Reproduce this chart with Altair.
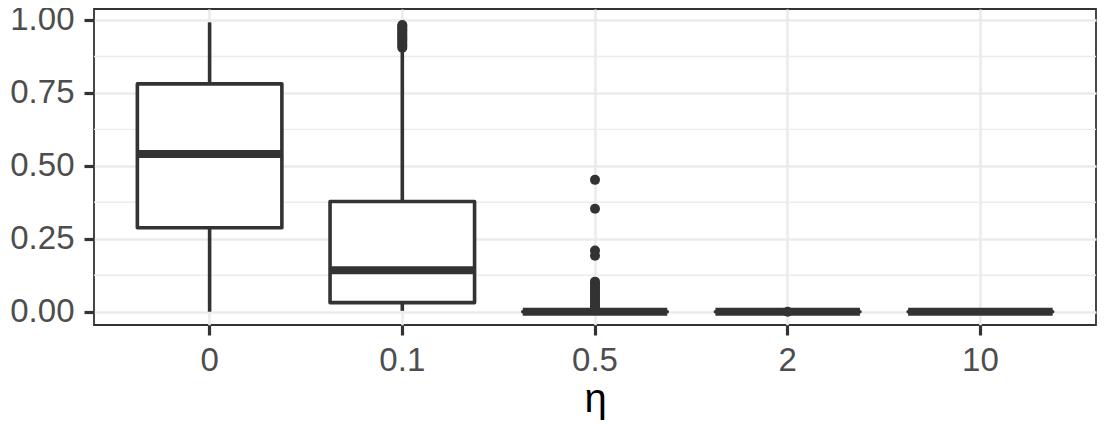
import altair as alt
import pandas as pd

# ---- data ----
categories = ["0", "0.1", "0.5", "2", "10"]
lower_whisker = [0.0, 0.003, 0.0, 0.0, 0.0]
q1 = [0.288, 0.031, 0.0, 0.0, 0.0]
median = [0.541, 0.142, 0.0, 0.0, 0.0]
q3 = [0.781, 0.378, 0.0, 0.0, 0.0]
upper_whisker = [0.992, 0.897, 0.0, 0.0, 0.0]

outliers_01 = [0.905, 0.912, 0.918, 0.925, 0.931, 0.937, 0.944, 0.950,
               0.956, 0.962, 0.968, 0.974, 0.979, 0.983]
outliers_05 = [0.452, 0.353, 0.210, 0.192, 0.103, 0.096, 0.089, 0.082,
               0.075, 0.068, 0.061, 0.054, 0.047, 0.040, 0.033, 0.026,
               0.019, 0.012, 0.006]
outliers_2 = [0.0]

y_ticks = [0.0, 0.25, 0.5, 0.75, 1.0]
y_minor = [0.125, 0.375, 0.625, 0.875]

# ---- tables ----
box_df = pd.DataFrame({
    "eta": categories,
    "lo": lower_whisker,
    "q1": q1,
    "med": median,
    "q3": q3,
    "hi": upper_whisker,
})
out_df = pd.DataFrame({
    "eta": ["0.1"] * len(outliers_01) + ["0.5"] * len(outliers_05) + ["2"] * len(outliers_2),
    "v": outliers_01 + outliers_05 + outliers_2,
})
minor_df = pd.DataFrame({"y": y_minor})

INK = "#333333"
W, H = 1002, 316
step = W / 5.2

xscale = alt.Scale(domain=categories, paddingInner=0, paddingOuter=0.1)
yscale = alt.Scale(domain=[-0.0456, 1.0377], nice=False, zero=False)

X = alt.X("eta:N", scale=xscale, sort=categories,
          axis=alt.Axis(title="η", labelAngle=0))
Y_AX = alt.Axis(title=None, values=y_ticks, format=".2f")

minor = alt.Chart(minor_df).mark_rule(color="#EBEBEB", strokeWidth=1.4).encode(
    y=alt.Y("y:Q", scale=yscale, axis=Y_AX)
)

whisk_hi = alt.Chart(box_df).mark_rule(color=INK, strokeWidth=3.6).encode(
    x=X, y=alt.Y("q3:Q", scale=yscale, axis=Y_AX), y2="hi:Q"
)
whisk_lo = alt.Chart(box_df).mark_rule(color=INK, strokeWidth=3.6).encode(
    x=X, y=alt.Y("lo:Q", scale=yscale, axis=Y_AX), y2="q1:Q"
)
boxes = alt.Chart(box_df).mark_bar(
    width=alt.RelativeBandSize(0.75), fill="white", stroke=INK,
    strokeWidth=3.6, strokeJoin="round"
).encode(
    x=X, y=alt.Y("q1:Q", scale=yscale, axis=Y_AX), y2="q3:Q"
)
meds = alt.Chart(box_df).mark_tick(
    orient="horizontal", color=INK, size=step * 0.75, thickness=8, opacity=1
).encode(
    x=X, y=alt.Y("med:Q", scale=yscale, axis=Y_AX)
)
pts = alt.Chart(out_df).mark_circle(color=INK, size=100, opacity=1).encode(
    x=X, y=alt.Y("v:Q", scale=yscale, axis=Y_AX)
)

chart = alt.layer(minor, whisk_hi, whisk_lo, boxes, meds, pts).properties(
    width=W, height=H,
    autosize=alt.AutoSizeParams(type="none"),
    padding={"left": 86, "top": 1, "right": 1, "bottom": 97},
).configure_view(
    stroke=INK, strokeWidth=1.8, fill="white"
).configure_axis(
    domain=False,
    grid=True, gridColor="#EBEBEB", gridWidth=2.6,
    tickColor=INK, tickWidth=3.2, tickSize=10,
    labelFont="Liberation Sans", labelFontSize=33, labelColor="#4D4D4D",
    titleFont="Liberation Sans", titleFontSize=40, titleColor="#000000",
    titleFontWeight="normal",
).configure_axisY(
    labelPadding=10,
).configure_axisX(
    labelPadding=9, titlePadding=2,
)

chart.save("out.html", embed_options={"renderer": "svg", "actions": False})
